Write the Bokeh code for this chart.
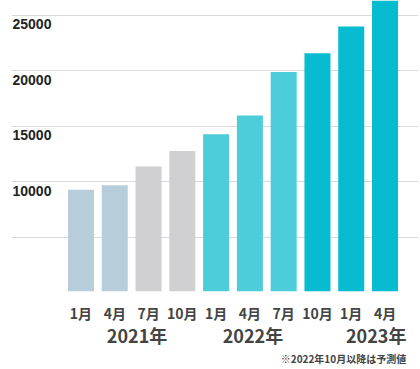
from bokeh.plotting import figure
from bokeh.models import Range1d, FixedTicker, LinearAxis
from bokeh.core.properties import value
from bokeh.embed import file_html
from bokeh.resources import INLINE

# ---- data ----
months = ["1月", "4月", "7月", "10月", "1月", "4月", "7月", "10月", "1月", "4月"]
values = [9300, 9700, 11400, 12800, 14300, 16000, 19900, 21600, 24000, 26500]
colors = ["#b7ceda", "#b7ceda", "#d0cfd1", "#d0cfd1",
          "#4dcdda", "#4dcdda", "#4dcdda", "#07bcd0", "#07bcd0", "#07bcd0"]
years = ["2021年", "2022年", "2023年"]
year_pos = [1.66, 5.09, 8.74]
note = "※2022年10月以降は予測値"
note_pos = [7.77]
y_ticks = [5000, 10000, 15000, 20000, 25000]
y_labels = ["10000", "15000", "20000", "25000"]
y_label_vals = [10000, 15000, 20000, 25000]

idx = list(range(len(values)))
x0, x1 = -2.057, 9.991
p = figure(width=420, height=369, x_range=Range1d(x0, x1), y_range=Range1d(135, 26351),
           output_backend="svg", toolbar_location=None,
           x_axis_location=None, y_axis_location=None,
           min_border_left=11, min_border_right=2, min_border_top=0, min_border_bottom=78)
p.outline_line_color = None
p.background_fill_color = "white"
p.border_fill_color = "white"
p.xgrid.visible = False
p.ygrid.ticker = FixedTicker(ticks=y_ticks)
p.ygrid.grid_line_color = "#d9d9d9"
p.ygrid.grid_line_width = 1

p.vbar(x=idx, top=values, bottom=0, width=0.77, color=colors, line_color=None)

p.text(x=[x0] * len(y_labels), y=y_label_vals, text=y_labels,
       text_baseline="top", text_align="left", x_offset=1, y_offset=4,
       text_font=value("Liberation Sans"), text_font_style="bold",
       text_font_size="14px", text_color="#222222")

def make_axis(ticks, labels, size, standoff):
    ax = LinearAxis(ticker=FixedTicker(ticks=ticks),
                    major_label_overrides={t: l for t, l in zip(ticks, labels)})
    ax.axis_line_color = None
    ax.major_tick_line_color = None
    ax.minor_tick_line_color = None
    ax.major_tick_in = 0
    ax.major_tick_out = 0
    ax.minor_tick_in = 0
    ax.minor_tick_out = 0
    ax.major_label_standoff = standoff
    ax.major_label_text_font = "Noto Sans CJK JP"
    ax.major_label_text_font_style = "bold"
    ax.major_label_text_font_size = size
    ax.major_label_text_color = "#444444"
    p.add_layout(ax, "below")
    return ax

make_axis(idx, months, "14px", 11)
make_axis(year_pos, years, "18px", -4)
make_axis(note_pos, [note], "10px", 0)

open("out.html", "w").write(file_html(p, INLINE))
